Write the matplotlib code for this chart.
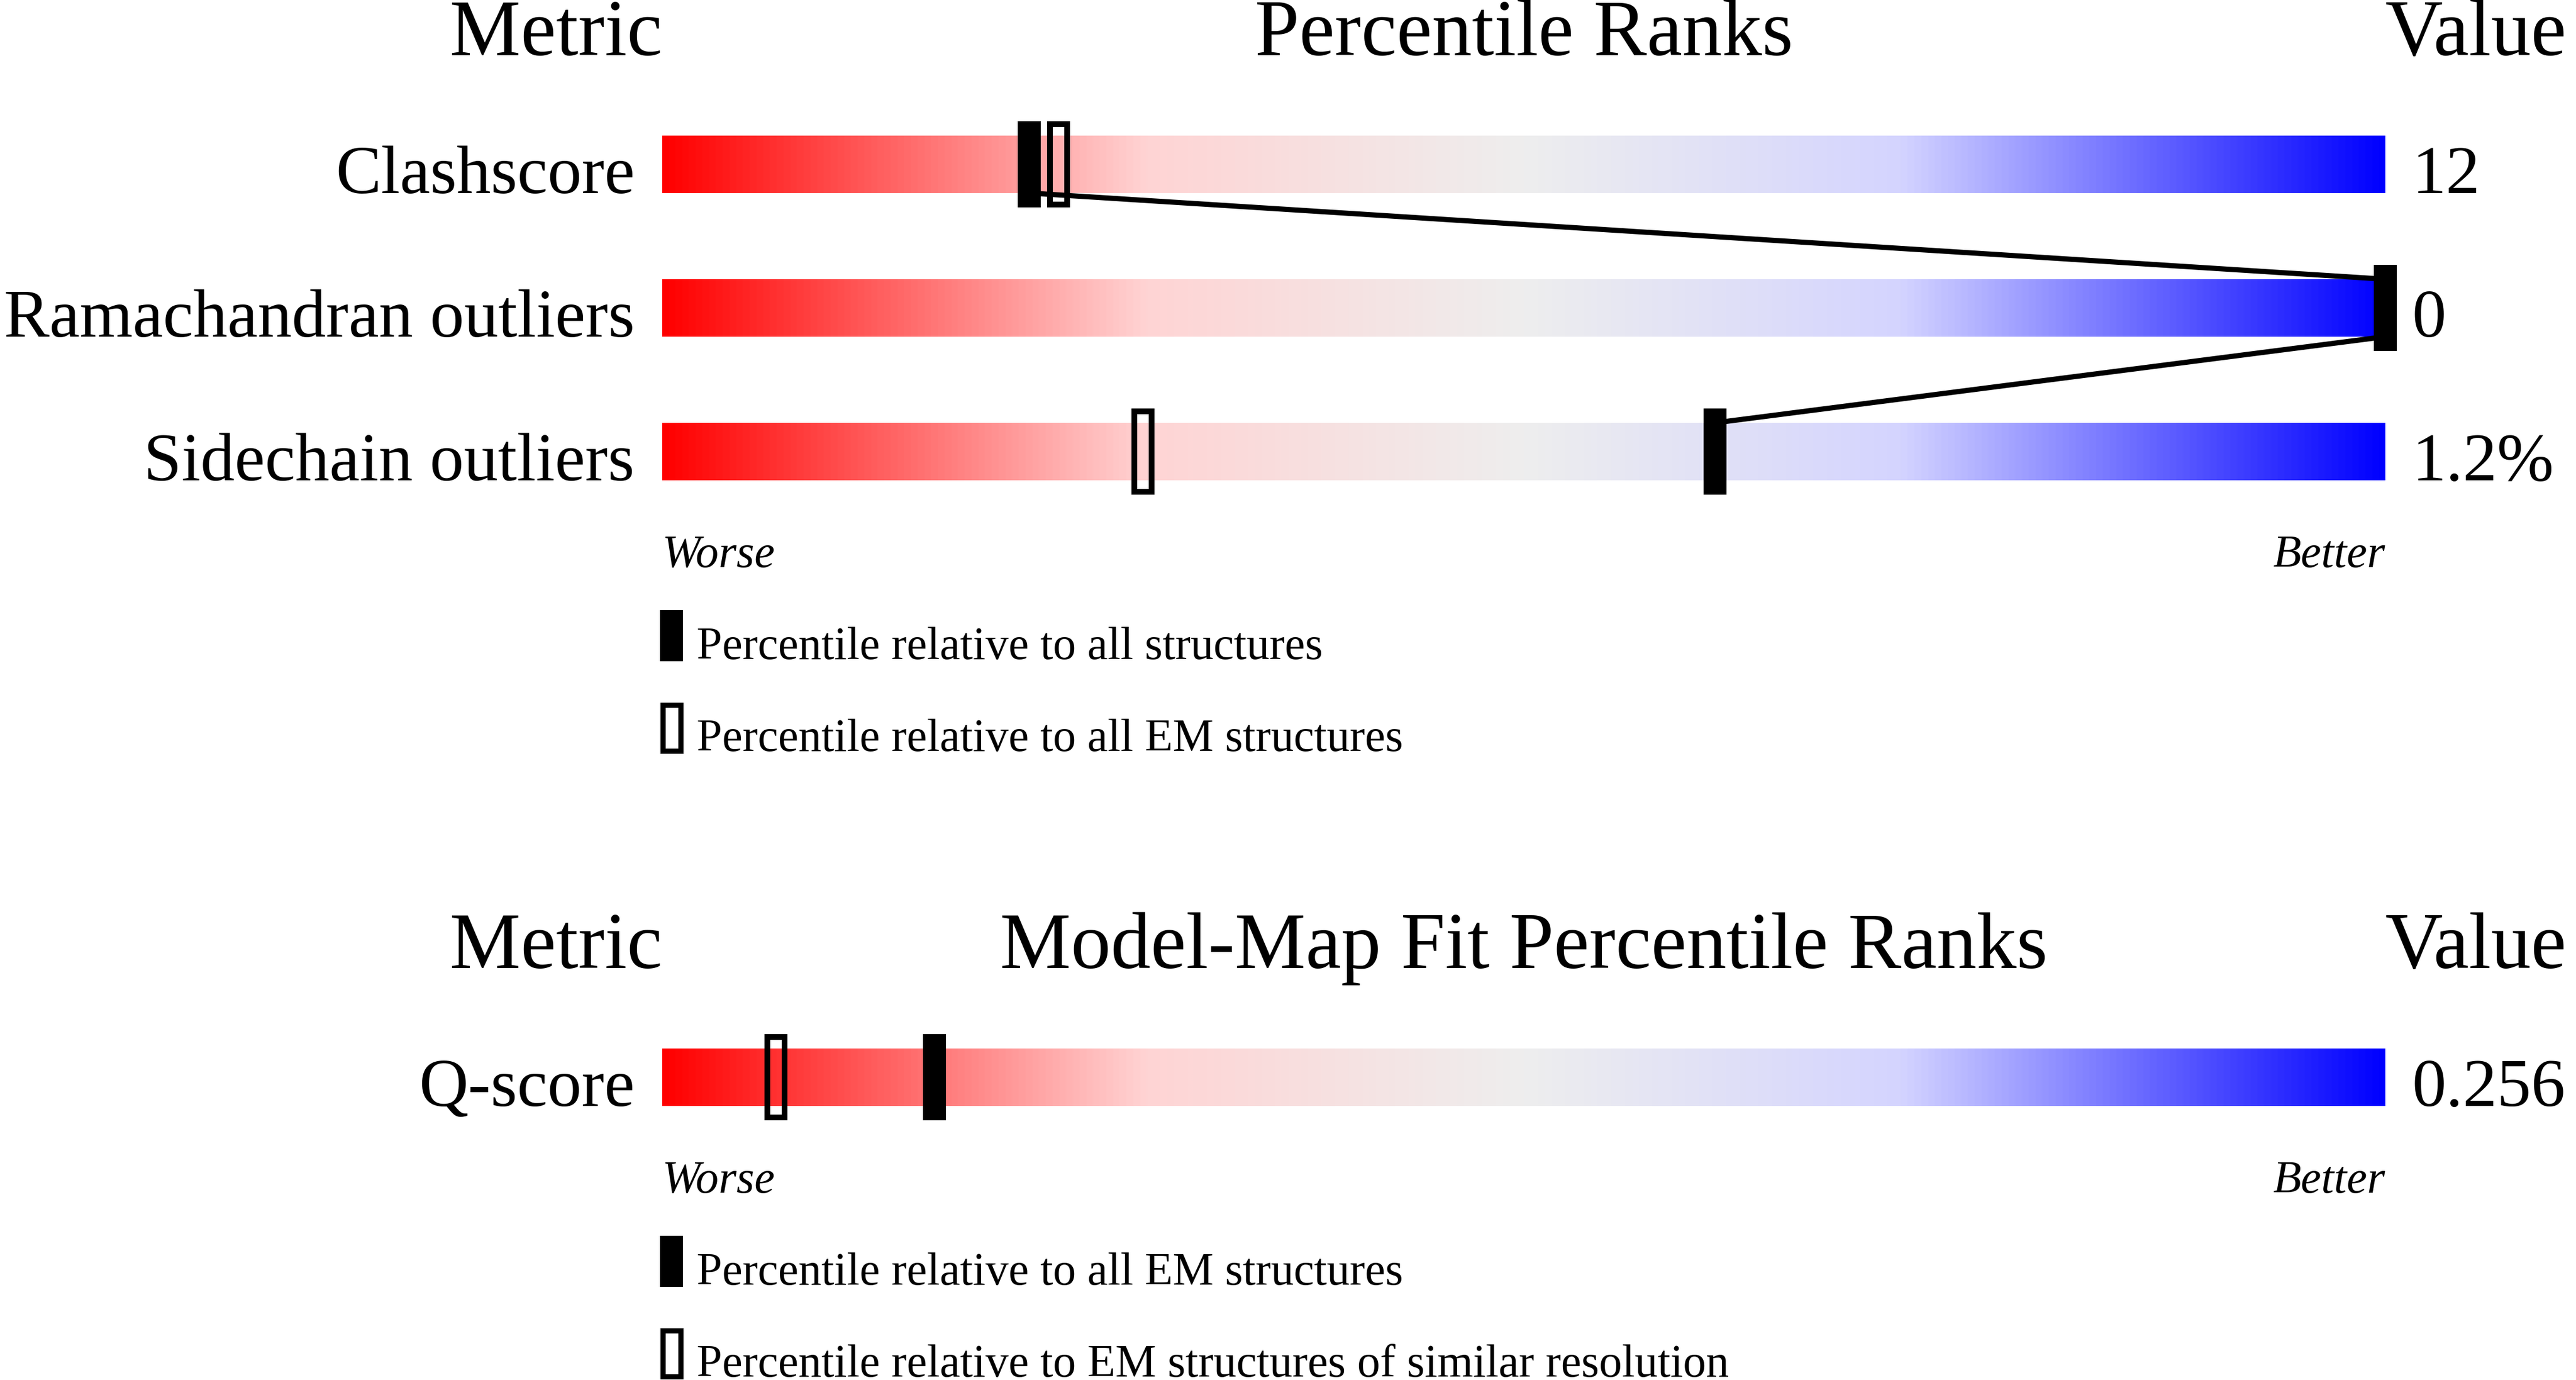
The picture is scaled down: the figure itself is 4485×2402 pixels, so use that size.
import numpy as np
import matplotlib
matplotlib.use("Agg")
import matplotlib.pyplot as plt
from matplotlib.colors import LinearSegmentedColormap
from matplotlib.patches import Rectangle

# --- data ---
metrics = ["Clashscore", "Ramachandran outliers", "Sidechain outliers"]
metric_values = ["12", "0", "1.2%"]
pct_all = [21.3, 100.0, 61.1]
pct_em = [23.0, 100.0, 27.9]
legend_quality = ["Percentile relative to all structures",
                  "Percentile relative to all EM structures"]

fit_metrics = ["Q-score"]
fit_values = ["0.256"]
fit_pct_em = [15.8]
fit_pct_similar = [6.6]
legend_fit = ["Percentile relative to all EM structures",
              "Percentile relative to EM structures of similar resolution"]

# --- layout (pixels) ---
W, H, DPI = 4485, 2402, 100
BAR_X0, BAR_X1 = 1153, 4153
PX = (BAR_X1 - BAR_X0) / 100.0          # pixels per percentile
BAR_H, MARK_H, MARK_W = 100, 150, 40
ROW_STEP = 250
BORDER = 10

FONT = "Liberation Serif"
plt.rcParams["font.family"] = [FONT, "DejaVu Serif"]

slider = LinearSegmentedColormap.from_list(
    "slider",
    [(0.0, (1.0, 0.0, 0.0)),
     (0.28, (1.0, 212 / 255, 212 / 255)),
     (0.5, (238 / 255, 238 / 255, 238 / 255)),
     (0.72, (212 / 255, 212 / 255, 1.0)),
     (1.0, (0.0, 0.0, 1.0))])


def u(px):
    """pixel x -> percentile units"""
    return (px - BAR_X0) / PX


def pt(px):
    return px * 72.0 / DPI


def draw_panel(ax, top, title, names, values, solid, hollow, legend_labels):
    ax.text(0, top, "Metric", ha="right", va="baseline", fontsize=100)
    ax.text(50, top, title, ha="center", va="baseline", fontsize=100)
    ax.text(100, top, "Value", ha="left", va="baseline", fontsize=100)

    grad = np.linspace(0, 1, 1024).reshape(1, -1)
    tops = [top + 140 + i * ROW_STEP for i in range(len(names))]
    mw = MARK_W / PX
    for i, (name, val, ps, ph) in enumerate(zip(names, values, solid, hollow)):
        bt = tops[i]
        bb = bt + BAR_H
        ax.imshow(grad, cmap=slider, extent=(0, 100, bb, bt), aspect="auto",
                  interpolation="bilinear", zorder=1)
        ax.text(u(1105), bb, name, ha="right", va="baseline", fontsize=85.5)
        ax.text(u(4200), bb, val, ha="left", va="baseline", fontsize=85.5)
        mt = bt - (MARK_H - BAR_H) / 2
        # hollow marker (outer size MARK_W x MARK_H)
        ax.add_patch(Rectangle((ph - mw / 2 + BORDER / 2 / PX, mt + BORDER / 2),
                               (MARK_W - BORDER) / PX, MARK_H - BORDER,
                               fill=False, ec="black", lw=pt(BORDER), zorder=2))
        ax.add_patch(Rectangle((ps - mw / 2, mt), mw, MARK_H,
                               fc="black", ec="none", zorder=4))
    for i in range(len(names) - 1):
        ax.plot([solid[i], solid[i + 1]], [tops[i] + BAR_H, tops[i + 1]],
                color="black", lw=pt(9), zorder=3, solid_capstyle="butt")

    last_bottom = tops[-1] + BAR_H
    ax.text(0, last_bottom + 151, "Worse", ha="left", va="baseline",
            fontsize=57.5, style="italic")
    ax.text(100, last_bottom + 151, "Better", ha="right", va="baseline",
            fontsize=57.5, style="italic")

    lx = u(1149)
    lh = 89
    for k, lab in enumerate(legend_labels):
        rt = last_bottom + 226 + k * 160
        if k == 0:
            ax.add_patch(Rectangle((lx, rt), mw, lh, fc="black", ec="none", zorder=4))
        else:
            b = 9
            ax.add_patch(Rectangle((lx + b / 2 / PX, rt + b / 2), (MARK_W - b) / PX, lh - b,
                                   fill=False, ec="black", lw=pt(b), zorder=4))
        ax.text(u(1213), rt + lh - 4, lab, ha="left", va="baseline", fontsize=57.5)


fig = plt.figure(figsize=(W / DPI, H / DPI), dpi=DPI)
ax = fig.add_axes([0, 0, 1, 1])
ax.axis("off")

draw_panel(ax, 96, "Percentile Ranks", metrics, metric_values, pct_all, pct_em, legend_quality)
draw_panel(ax, 1685, "Model-Map Fit Percentile Ranks", fit_metrics, fit_values,
           fit_pct_em, fit_pct_similar, legend_fit)

ax.set_xlim(u(0), u(W))
ax.set_ylim(H, 0)
ax.set_aspect("auto")

fig.savefig("out.png", dpi=DPI, facecolor="white")
